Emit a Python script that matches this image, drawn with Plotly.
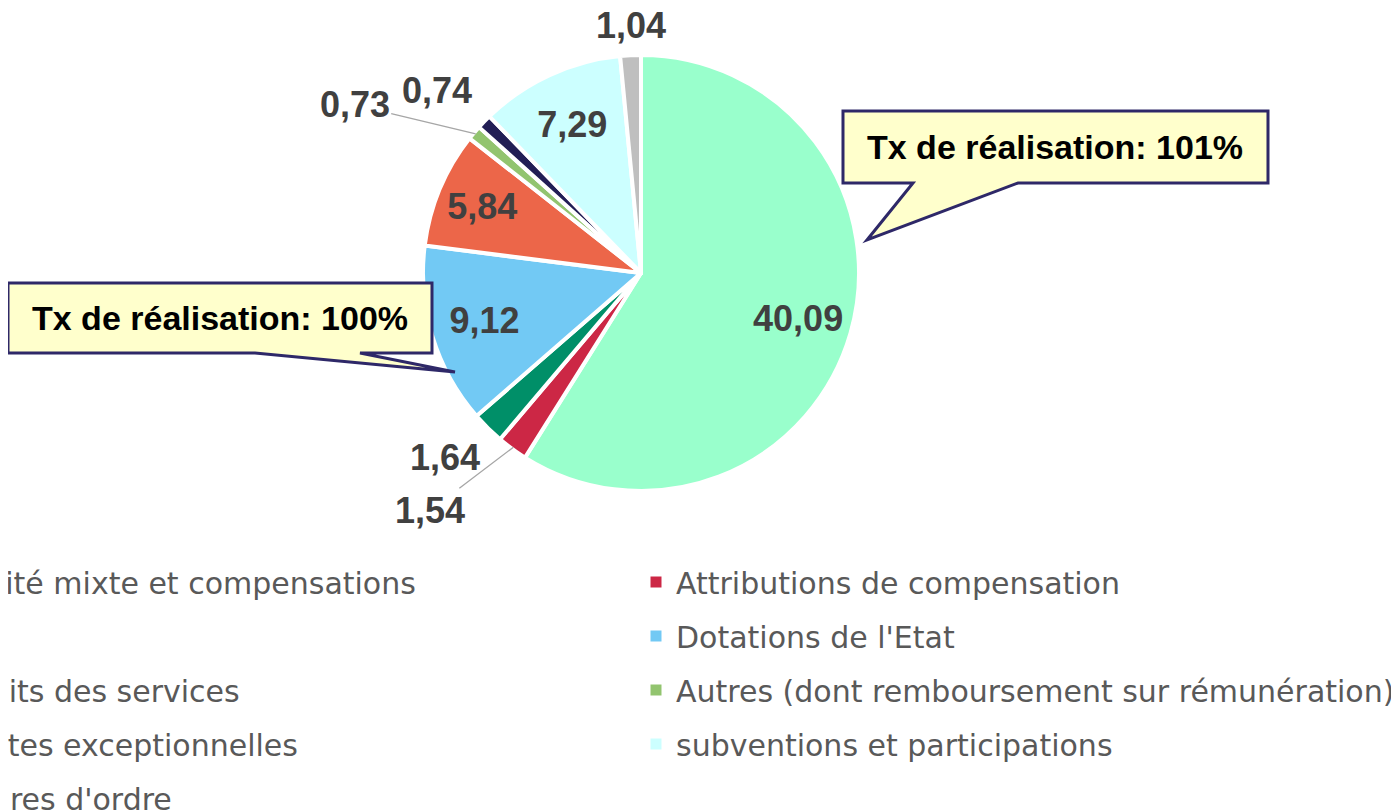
import math
import plotly.graph_objects as go

# ---------------- data ----------------
categories = [
    "Fiscalité mixte et compensations",
    "Attributions de compensation",
    "DSC",
    "Dotations de l'Etat",
    "Produits des services",
    "Autres (dont remboursement sur rémunération)",
    "Recettes exceptionnelles",
    "subventions et participations",
    "Écritures d'ordre",
]
values = [40.09, 1.54, 1.64, 9.12, 5.84, 0.73, 0.74, 7.29, 1.04]
colors = ["#99FFCC", "#CC2745", "#008F68", "#72C9F4", "#EC6649",
          "#92C46F", "#221E55", "#CCFFFF", "#BFBFBF"]
label_inside = [True, False, False, True, True, False, False, True, False]
callout_texts = ["Tx de réalisation: 101%", "Tx de réalisation: 100%"]

W, H = 1399, 811
OFF = 8  # page offset of the figure (body margin)


def fx(x):
    return (x - OFF) / W


def fy(y):
    return 1 - (y - OFF) / H


fig = go.Figure()

# pie geometry (page pixels)
cx, cy, r = 641, 273, 218
dom = dict(x=[fx(cx - r), fx(cx + r)], y=[fy(cy + r), fy(cy - r)])
lab_font = dict(family="Liberation Sans", size=36, color="#404040", weight="bold")

fig.add_trace(go.Pie(
    labels=categories, values=values, sort=False, direction="clockwise", rotation=0,
    marker=dict(colors=colors, line=dict(color="white", width=4)),
    textinfo="none", domain=dom, showlegend=False, hoverinfo="skip", automargin=False,
))

# transparent ring overlay only used to place the inside labels further out
fig.add_trace(go.Pie(
    labels=categories, values=values, sort=False, direction="clockwise", rotation=0,
    hole=0.5,
    marker=dict(colors=["rgba(0,0,0,0)"] * len(values), line=dict(width=0)),
    texttemplate="%{value:.2f}",
    textposition=["inside" if b else "none" for b in label_inside],
    insidetextorientation="horizontal",
    textfont=lab_font, insidetextfont=lab_font,
    domain=dom, showlegend=False, hoverinfo="skip", automargin=False,
))

# outside labels: anchored on the slice edge at its mid angle
total = sum(values)
label_offsets = {1: (-83, 63, True), 2: (-44, 31, False), 5: (-121, -29, True),
                 6: (-49, -33, False), 8: (0, -32, False)}
annotations = []
cum = 0.0
R_edge = 216
for i, v in enumerate(values):
    mid = (cum + v / 2) / total * 2 * math.pi
    cum += v
    if label_inside[i]:
        continue
    ex = cx + R_edge * math.sin(mid)
    ey = cy - R_edge * math.cos(mid)
    dx, dy, line = label_offsets[i]
    txt = f"{v:.2f}".replace(".", ",")
    if line:
        annotations.append(dict(
            text=txt, x=fx(ex), y=fy(ey), xref="paper", yref="paper",
            showarrow=True, ax=dx, ay=dy, arrowhead=0, arrowwidth=1.3,
            arrowcolor="#A6A6A6", standoff=0, font=lab_font))
    else:
        annotations.append(dict(
            text=txt, x=fx(ex), y=fy(ey), xref="paper", yref="paper",
            showarrow=False, xshift=dx, yshift=-dy, font=lab_font,
            xanchor="center", yanchor="middle"))

# legend entries (two columns, row-major like the original)
for i, (name, col) in enumerate(zip(categories, colors)):
    fig.add_trace(go.Scatter(
        x=[None], y=[None], mode="markers", name=name,
        marker=dict(symbol="square", size=11, color=col),
        legend="legend" if i % 2 == 0 else "legend2",
        legendgroup=f"g{i}", showlegend=True, hoverinfo="skip",
    ))

legend_font = dict(family="DejaVu Sans", size=30, color="#595959")


# callouts (speech bubbles)
def bubble(x0, y0, x1, y1, b0, b1, tip):
    pts = [(x0, y0), (x1, y0), (x1, y1), (b1, y1), tip, (b0, y1), (x0, y1)]
    path = "M " + " L ".join(f"{fx(a):.5f},{fy(b):.5f}" for a, b in pts) + " Z"
    return dict(type="path", xref="paper", yref="paper", path=path,
                fillcolor="#FFFFCC", line=dict(color="#2E2868", width=3), layer="above")


shapes = [
    bubble(843, 111, 1268, 183, 913, 1018, (867, 240)),
    bubble(8, 283, 432, 353, 255, 360, (455, 372)),
]
callout_font = dict(family="Liberation Sans", size=34, color="#000000", weight="bold")
annotations += [
    dict(text=callout_texts[0], x=fx(1055), y=fy(147), xref="paper", yref="paper",
         showarrow=False, xanchor="center", yanchor="middle", font=callout_font),
    dict(text=callout_texts[1], x=fx(220), y=fy(318), xref="paper", yref="paper",
         showarrow=False, xanchor="center", yanchor="middle", font=callout_font),
]

fig.update_layout(
    width=W, height=H,
    margin=dict(l=0, r=0, t=0, b=0, autoexpand=False),
    paper_bgcolor="white", plot_bgcolor="white",
    separators=", ",
    xaxis=dict(visible=False), yaxis=dict(visible=False),
    legend=dict(x=fx(-117), y=fy(556), xanchor="left", yanchor="top",
                orientation="v", font=legend_font, tracegroupgap=12,
                bgcolor="rgba(0,0,0,0)"),
    legend2=dict(x=fx(636), y=fy(556), xanchor="left", yanchor="top",
                 orientation="v", font=legend_font, tracegroupgap=12,
                 bgcolor="rgba(0,0,0,0)"),
    shapes=shapes,
    annotations=annotations,
)

fig.write_html("out.html")
